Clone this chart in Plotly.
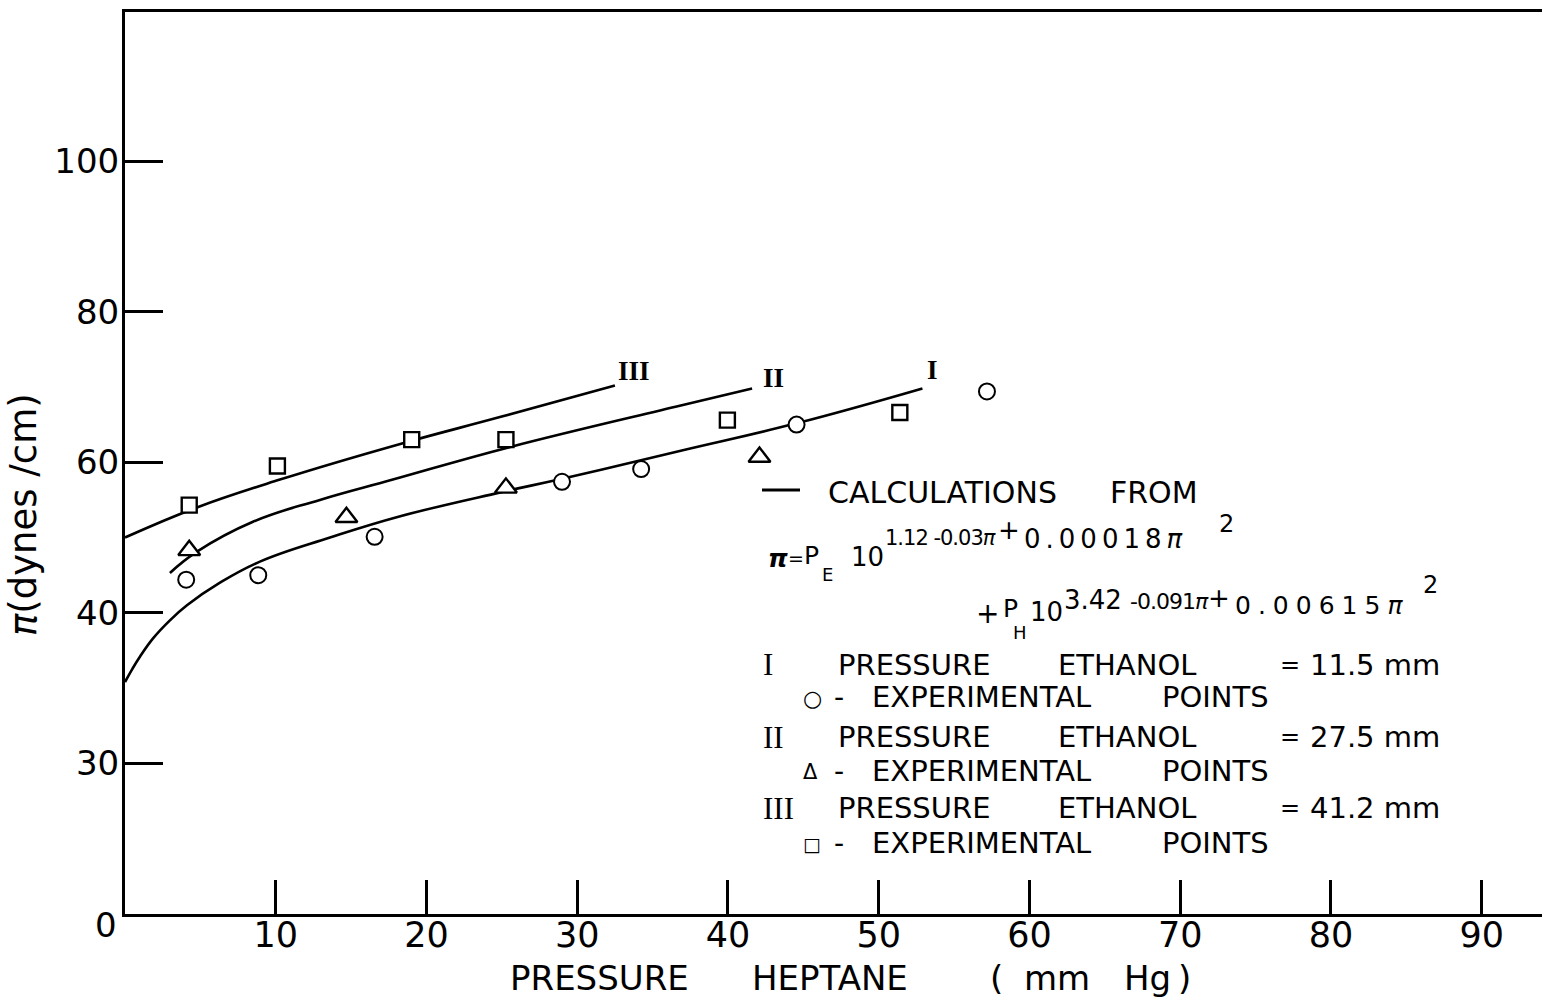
import plotly.graph_objects as go

# ---------------- data ----------------
circ_x = [4.06, 8.84, 16.56, 28.99, 34.24, 44.55, 57.18]
circ_y = [44.4, 45.0, 50.1, 57.4, 59.1, 65.0, 69.4]
tri_x = [4.26, 14.69, 25.27, 42.09]
tri_y = [48.3, 52.7, 56.6, 60.7]
sq_x = [4.26, 10.11, 19.02, 25.27, 39.96, 51.40]
sq_y = [54.3, 59.5, 63.0, 63.0, 65.6, 66.6]

curve1_x = [0, 0.5, 1.0, 1.86, 2.98, 4.11, 6.3, 8.95, 13.6, 18.2, 24.9, 29.0, 36.8, 44.6, 52.9]
curve1_y = [30.8, 32.6, 34.2, 36.6, 39.0, 41.0, 44.0, 46.8, 50.0, 52.8, 56.0, 57.8, 61.5, 65.2, 69.8]
curve2_x = [2.98, 4.75, 8.49, 12.93, 17.77, 25.5, 36.8, 41.6]
curve2_y = [45.3, 48.1, 52.1, 55.0, 57.7, 62.0, 67.5, 69.8]
curve3_x = [0, 4.77, 10.28, 18.2, 24.87, 32.5]
curve3_y = [50.0, 54.0, 57.7, 62.4, 66.0, 70.2]

x_tickvals = [10, 20, 30, 40, 50, 60, 70, 80, 90]
x_ticktext = ["10", "20", "30", "40", "50", "60", "70", "80", "90"]
y_tickvals = [0, 20, 40, 60, 80, 100]
y_ticktext = ["", "30", "40", "60", "80", "100"]
origin_label = "0"

curve_labels = ["I", "II", "III"]
ethanol_pressures = ["11.5 mm", "27.5 mm", "41.2 mm"]

# ---------------- layout geometry ----------------
W, H = 1542, 998
L, R, T, B = 125, 0, 12, 84
FONT = "DejaVu Sans"
SERIF = "Liberation Serif"


def pp(xp, yp):
    """pixel position -> paper coordinates"""
    return (xp - L) / (W - L - R), (H - B - yp) / (H - T - B)


fig = go.Figure()

for cx, cy in [(curve1_x, curve1_y), (curve2_x, curve2_y), (curve3_x, curve3_y)]:
    fig.add_trace(go.Scatter(x=cx, y=cy, mode="lines",
                             line=dict(color="black", width=2.6, shape="spline", smoothing=1.2),
                             showlegend=False, hoverinfo="skip"))

fig.add_trace(go.Scatter(x=circ_x, y=circ_y, mode="markers",
                         marker=dict(symbol="circle", size=16, color="white",
                                     line=dict(color="black", width=2)),
                         showlegend=False))
fig.add_trace(go.Scatter(x=tri_x, y=tri_y, mode="markers",
                         marker=dict(symbol="triangle-up", size=19, color="white",
                                     line=dict(color="black", width=2.4)),
                         showlegend=False))
fig.add_trace(go.Scatter(x=sq_x, y=sq_y, mode="markers",
                         marker=dict(symbol="square", size=15, color="white",
                                     line=dict(color="black", width=2.4)),
                         showlegend=False))

ann = []


def text(s, xp, yp, size=29, anchor="left", family=FONT, angle=0):
    x, y = pp(xp, yp)
    ann.append(dict(text=s, x=x, y=y, xref="paper", yref="paper", xanchor=anchor,
                    yanchor="middle", showarrow=False, textangle=angle,
                    font=dict(family=family, size=size, color="black")))


def spacing(s, px):
    return '<span style="letter-spacing:%dpx">%s</span>' % (px, s)


# curve labels
text("<b>" + curve_labels[2] + "</b>", 634, 371, size=27, anchor="center", family=SERIF)
text("<b>" + curve_labels[1] + "</b>", 773, 378, size=27, anchor="center", family=SERIF)
text("<b>" + curve_labels[0] + "</b>", 932, 370, size=27, anchor="center", family=SERIF)

# legend / formula block
text("CALCULATIONS", 826, 492, size=30)
text("FROM", 1108, 492, size=30)

text("<b><i>π</i></b>", 766, 558, size=25)
text("=", 786, 558, size=19)
text("P", 802, 556, size=25)
text("E", 820, 574, size=18)
text("10", 849, 557, size=26)
text(spacing("1.12 -0.03", -1) + "<i>π</i>", 883, 538, size=21)
text("+", 996, 530, size=26)
text(spacing("0.00018", 5) + "<i>π</i>", 1022, 539, size=26)
text("2", 1217, 524, size=24)

text("+", 974, 613, size=28)
text("P", 1001, 608, size=25)
text("H", 1011, 632, size=18)
text("10", 1028, 612, size=26)
text("3.42", 1062, 600, size=26)
text(spacing("-0.091", -1) + "<i>π</i>", 1128, 601, size=22)
text("+", 1206, 598, size=26)
text(spacing("0.00615", 7) + "<i>π</i>", 1233, 606, size=25)
text("2", 1421, 585, size=24)

syms = ["○", "Δ", "□"]
sym_sizes = [22, 21, 19]
row_y = [665, 737, 808]
exp_y = [697, 771, 843]
for i in range(3):
    yr, ye = row_y[i], exp_y[i]
    text(curve_labels[i], 761, yr, size=31, family=SERIF)
    text("PRESSURE", 836, yr)
    text("ETHANOL", 1056, yr)
    text("=", 1278, yr, size=24)
    text(ethanol_pressures[i], 1308, yr)
    text(syms[i], 801, ye + 1, size=sym_sizes[i])
    text("-", 832, ye, size=28)
    text("EXPERIMENTAL", 870, ye)
    text("POINTS", 1160, ye)

# origin label
text(origin_label, 106, 925, size=34, anchor="center")

# axis titles
for word, xp in [("PRESSURE", 508), ("HEPTANE", 750), ("(", 988), ("mm", 1022), ("Hg", 1122), (")", 1176)]:
    text(word, xp, 978, size=34)
text("<i>π</i>(dynes /cm)", 23, 515, size=37, anchor="center", angle=-90)

fig.update_layout(
    width=W, height=H,
    margin=dict(l=L, r=R, t=T, b=B),
    paper_bgcolor="white", plot_bgcolor="white",
    annotations=ann,
    shapes=[dict(type="line", xref="paper", yref="paper",
                 x0=pp(762, 0)[0], x1=pp(800, 0)[0], y0=pp(0, 490)[1], y1=pp(0, 490)[1],
                 line=dict(color="black", width=3))],
    xaxis=dict(range=[0, 94], showgrid=False, zeroline=False, showline=True,
               linecolor="black", linewidth=3, mirror=True,
               ticks="inside", ticklen=34, tickwidth=2.5, tickcolor="black",
               tickvals=x_tickvals, ticktext=x_ticktext, ticklabelstandoff=-12,
               tickfont=dict(family=FONT, size=35, color="black")),
    yaxis=dict(range=[0, 119.8], showgrid=False, zeroline=False, showline=True,
               linecolor="black", linewidth=3,
               ticks="inside", ticklen=38, tickwidth=2.5, tickcolor="black",
               tickvals=y_tickvals, ticktext=y_ticktext, ticklabelstandoff=-4,
               tickfont=dict(family=FONT, size=34, color="black")),
    showlegend=False,
)

fig.write_html("out.html", config={"displayModeBar": False},
               post_script="document.body.style.margin='0';document.body.style.overflow='hidden';")
